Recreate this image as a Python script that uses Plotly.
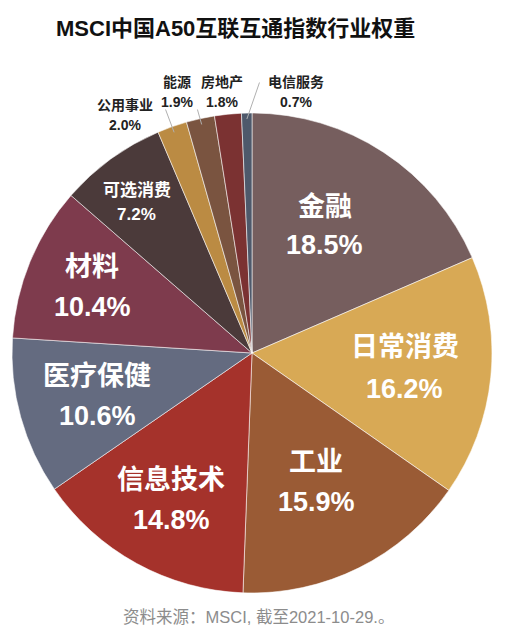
import math
import plotly.graph_objects as go

# 行业权重 (%)
sectors = ["金融", "日常消费", "工业", "信息技术", "医疗保健", "材料",
           "可选消费", "公用事业", "能源", "房地产", "电信服务"]
weights = [18.5, 16.2, 15.9, 14.8, 10.6, 10.4, 7.2, 2.0, 1.9, 1.8, 0.7]

colors = ["#765e5e", "#d8a955", "#9a5b35", "#a5322b", "#646b80", "#7e3b4d",
          "#4b3a3a", "#bb8b43", "#7a5440", "#7b3232", "#4e596b"]

title_text = "MSCI中国A50互联互通指数行业权重"
source_text = "资料来源：MSCI, 截至2021-10-29.。"

W, H = 509, 642
CX, CY, R = 252, 353, 240
FONT = "Liberation Sans, Noto Sans CJK SC, sans-serif"

# label placement: inside slices -> (radius fraction, angle nudge, font size, line gap)
inside_style = {
    "金融": (0.61, -3.5, 27, 19),
    "日常消费": (0.64, 0, 27, 21),
    "工业": (0.60, 0, 27, 20),
    "信息技术": (0.70, 0, 27, 20),
    "医疗保健": (0.67, 0, 27, 20),
    "材料": (0.72, 0, 27, 20),
    "可选消费": (0.79, -1.5, 17, 12),
}
# outside labels: text block centre (px) and leader line start (px, or None)
outside_style = {
    "公用事业": ((125, 115), (165, 108)),
    "能源": ((177, 92), (197, 108)),
    "房地产": ((222, 92), None),
    "电信服务": ((296, 92), (260, 81)),
}


def px(x, y):
    return x / W, 1 - y / H


fig = go.Figure(go.Pie(
    labels=sectors,
    values=weights,
    sort=False,
    direction="clockwise",
    rotation=0,
    textinfo="none",
    hoverinfo="label+percent",
    marker=dict(colors=colors, line=dict(color="rgba(255,255,255,0.55)", width=1)),
    domain=dict(x=[(CX - R) / W, (CX + R) / W], y=[1 - (CY + R) / H, 1 - (CY - R) / H]),
    showlegend=False,
))

annotations = []
total = sum(weights)
cum = 0.0
for name, val in zip(sectors, weights):
    mid = (cum + val / 2) / total * 360
    cum += val
    pct = f"{val:.1f}%"
    if name in inside_style:
        frac, nudge, size, gap = inside_style[name]
        a = math.radians(mid + nudge)
        lx = CX + frac * R * math.sin(a)
        ly = CY - frac * R * math.cos(a)
        for txt, dy in ((name, -gap), (pct, gap)):
            x, y = px(lx, ly + dy)
            annotations.append(dict(
                x=x, y=y, xref="paper", yref="paper", text=f"<b>{txt}</b>",
                showarrow=False, font=dict(family=FONT, size=size, color="white"),
                xanchor="center", yanchor="middle"))
    else:
        (tx, ty), start = outside_style[name]
        for txt, dy in ((name, -10), (pct, 10)):
            x, y = px(tx, ty + dy)
            annotations.append(dict(
                x=x, y=y, xref="paper", yref="paper", text=f"<b>{txt}</b>",
                showarrow=False, font=dict(family=FONT, size=14, color="#222222"),
                xanchor="center", yanchor="middle"))
        if start is not None:
            a = math.radians(mid)
            ex = CX + (R - 6) * math.sin(a)
            ey = CY - (R - 6) * math.cos(a)
            x, y = px(ex, ey)
            annotations.append(dict(
                x=x, y=y, xref="paper", yref="paper", text="",
                showarrow=True, arrowhead=0, arrowwidth=1, arrowcolor="#b0b0b0",
                ax=start[0] - ex, ay=start[1] - ey, standoff=0, startstandoff=0))

x, y = px(235, 28)
annotations.append(dict(
    x=x, y=y, xref="paper", yref="paper", text=f"<b>{title_text}</b>",
    showarrow=False, font=dict(family=FONT, size=22, color="#111111"),
    xanchor="center", yanchor="middle"))
x, y = px(258, 617)
annotations.append(dict(
    x=x, y=y, xref="paper", yref="paper", text=source_text,
    showarrow=False, font=dict(family=FONT, size=16.5, color="#8c8c8c"),
    xanchor="center", yanchor="middle"))

fig.update_layout(
    width=W, height=H,
    margin=dict(l=0, r=0, t=0, b=0),
    paper_bgcolor="white",
    plot_bgcolor="white",
    annotations=annotations,
)

# drop the page's default body margin so the figure sits at the window origin
fig.write_html("out.html", config={"displayModeBar": False},
               post_script="document.body.style.margin='0';")
